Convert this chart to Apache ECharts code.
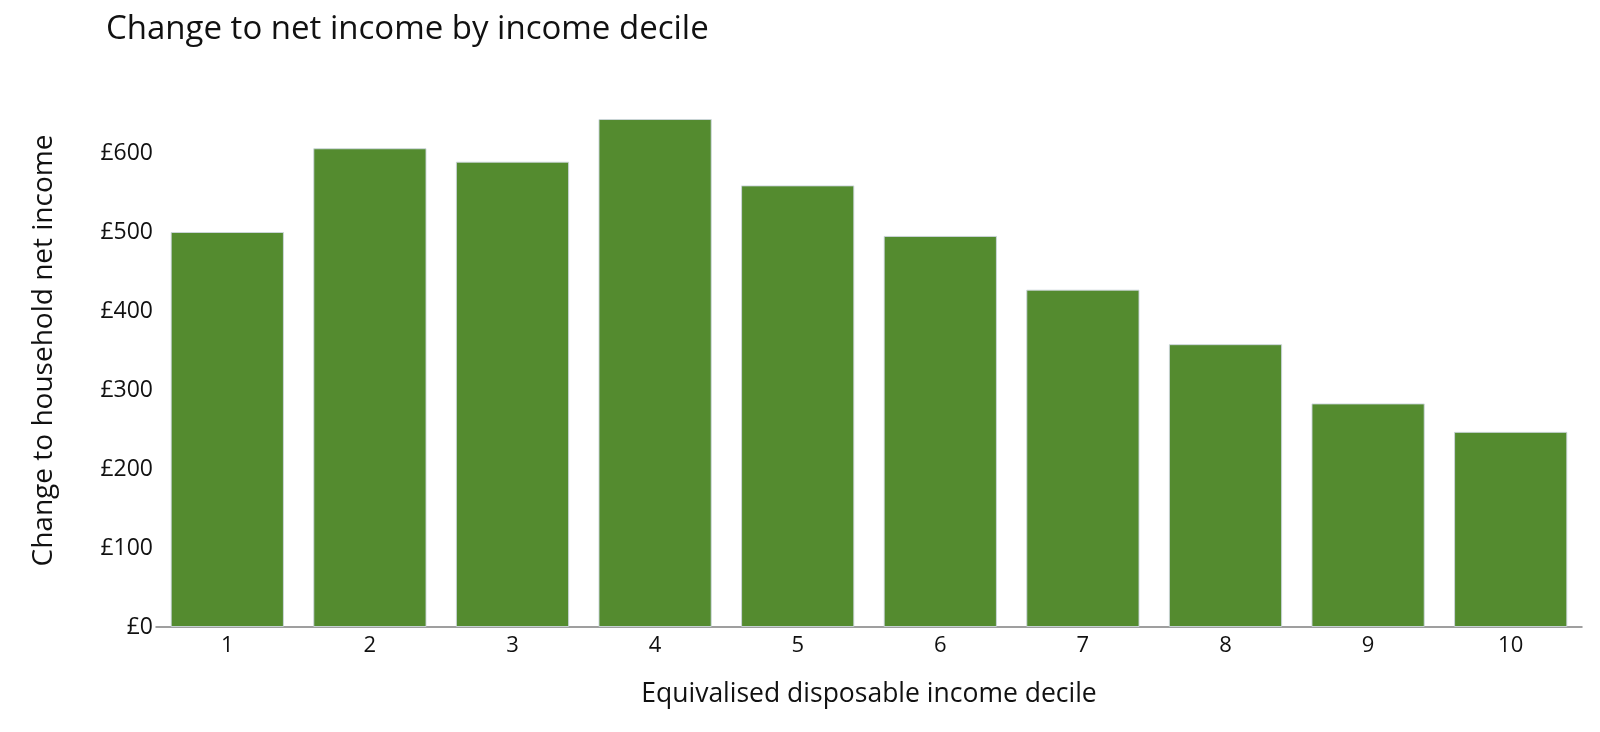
<!DOCTYPE html>
<html>
<head>
<meta charset="utf-8">
<script src="https://cdn.jsdelivr.net/npm/echarts@6/dist/echarts.min.js"></script>
<style>
  html, body { margin: 0; padding: 0; background: #fff; }
  #chart { width: 1600px; height: 732px; }
</style>
</head>
<body>
<div id="chart"></div>
<script>
// Income deciles and the change to household net income (GBP)
const deciles = ['1', '2', '3', '4', '5', '6', '7', '8', '9', '10'];
const netIncomeChange = [500, 606, 589, 643, 559, 495, 427, 358, 283, 247];
const yTicks = [0, 100, 200, 300, 400, 500, 600];

const FONT = '"Open Sans", "Noto Sans", sans-serif';

const chart = echarts.init(document.getElementById('chart'), null, { renderer: 'canvas' });

chart.setOption({
  animation: false,
  backgroundColor: '#ffffff',
  title: {
    text: 'Change to net income by income decile',
    left: 101,
    top: 8,
    textStyle: { fontFamily: FONT, fontSize: 33, fontWeight: 'normal', color: '#111' }
  },
  grid: { left: 156, right: 18, top: 74, bottom: 105, containLabel: false },
  xAxis: {
    type: 'category',
    data: deciles,
    name: 'Equivalised disposable income decile',
    nameLocation: 'middle',
    nameGap: 54,
    nameTextStyle: { fontFamily: FONT, fontSize: 26.5, color: '#111' },
    axisLine: { show: true, lineStyle: { color: '#808080', width: 1.5 } },
    axisTick: { show: false },
    axisLabel: { fontFamily: FONT, fontSize: 22, color: '#111', margin: 8 }
  },
  yAxis: {
    type: 'value',
    min: 0,
    max: 700,
    interval: 100,
    name: 'Change to household net income',
    nameLocation: 'middle',
    nameGap: 98,
    nameRotate: 90,
    nameTextStyle: { fontFamily: FONT, fontSize: 28, color: '#111' },
    axisLine: { show: false },
    axisTick: { show: false },
    splitLine: { show: false },
    axisLabel: {
      fontFamily: FONT,
      fontSize: 23,
      color: '#111',
      margin: 3,
      showMaxLabel: false,
      formatter: v => (yTicks.indexOf(v) >= 0 ? '£' + v : '')
    }
  },
  series: [{
    type: 'bar',
    data: netIncomeChange,
    barCategoryGap: '20.6%',
    itemStyle: {
      color: '#548b2f',
      borderColor: 'rgba(205,214,222,0.9)',
      borderWidth: 1
    }
  }]
});
</script>
</body>
</html>
